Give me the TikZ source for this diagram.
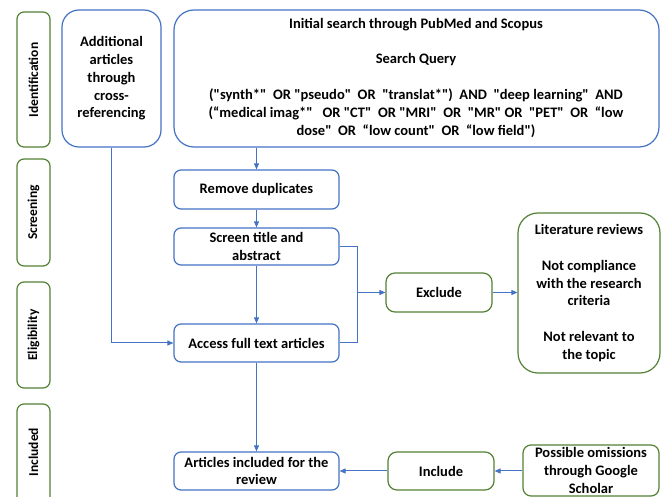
\documentclass[tikz,border=0pt]{standalone}
\usepackage{fontspec}
\setmainfont{Carlito}[Ligatures=TeXOff]
\usetikzlibrary{arrows.meta}
\definecolor{bl}{RGB}{68,114,196}
\definecolor{gr}{RGB}{84,130,53}
\tikzset{
  txt/.style={align=center, inner sep=0pt, font=\bfseries\fontsize{14.5}{17.8}\selectfont},
  box/.style={txt, draw=bl, line width=1.2pt},
  gbox/.style={txt, draw=gr, line width=1.2pt},
  side/.style={draw=gr, line width=1.2pt, rounded corners=7pt, inner sep=0pt, minimum width=33pt},
  lab/.style={rotate=90, font=\bfseries\fontsize{13.5}{16}\selectfont},
  arr/.style={draw=bl, line width=1pt, -{Triangle[length=6pt,width=5pt]}},
  ln/.style={draw=bl, line width=1pt}
}
\begin{document}
\begin{tikzpicture}[x=1pt,y=-1pt]
\clip (0,0) rectangle (665,497);
\fill[white] (0,0) rectangle (665,497);
% side labels
\node[side, minimum height=135pt] (sid) at (33.5,79.5) {};
\node[lab] (lid) at (33.5,80) {Identification};
\node[side, minimum height=107pt] (sscr) at (33.5,212.5) {};
\node[lab] (lscr) at (33.5,212.5) {Screening};
\node[side, minimum height=106pt] (seli) at (33.5,335) {};
\node[lab] (leli) at (33.5,335) {Eligibility};
\node[side, minimum height=100pt] (sinc) at (33.5,454) {};
\node[lab] (linc) at (33.5,452) {Included};
% main boxes
\node[box, rounded corners=17pt, minimum width=99pt, minimum height=137pt] (add) at (111.5,78.5) {Additional\\articles\\through\\cross-\\referencing};
\node[box, rounded corners=20pt, minimum width=485pt, minimum height=137pt] (ini) at (416.5,78.5) {};
\node[txt] (t1) at (416,25) {Initial search through PubMed and Scopus};
\node[txt] (t2) at (416,60) {Search Query};
\node[txt] (t3) at (416,113.5) {("synth*"\ \ OR "pseudo"\ \ OR \ "translat*")\ \ AND\ \ "deep learning"\ \ AND\\(“medical imag*"\ \ \ OR "CT"\ \ OR "MRI"\ \ OR\ \ "MR" OR\ \ "PET"\ \ OR\ \ “low\\dose"\ \ OR\ \ “low count"\ \ OR\ \ “low field")};
\node[box, rounded corners=7pt, minimum width=165pt, minimum height=39pt] (rem) at (256.5,189.5) {Remove duplicates};
\node[box, rounded corners=7pt, minimum width=165pt, minimum height=37pt] (scr) at (256.5,246.5) {Screen title and\\abstract};
\node[box, rounded corners=7pt, minimum width=165pt, minimum height=38pt] (acc) at (256.5,343) {Access full text articles};
\node[box, rounded corners=7pt, minimum width=165pt, minimum height=38pt] (art) at (256.5,471) {Articles included for the\\review};
\node[gbox, rounded corners=9pt, minimum width=106pt, minimum height=39pt] (exc) at (439,292.5) {Exclude};
\node[gbox, rounded corners=20pt, minimum width=142pt, minimum height=160pt] (lit) at (589,293) {Literature reviews\\[17.8pt]Not compliance\\with the research\\criteria\\[17.8pt]Not relevant to\\the topic};
\node[gbox, rounded corners=9pt, minimum width=106pt, minimum height=38pt] (inc) at (441,471) {Include};
\node[gbox, rounded corners=8pt, minimum width=136pt, minimum height=51pt] (pos) at (591,470.5) {Possible omissions\\through Google\\Scholar};
% connectors
\coordinate (j1) at (357,246.5);
\coordinate (j2) at (357,343);
\coordinate (j3) at (357,292.5);
\coordinate (a1) at (111.5,343);
\draw[arr] (ini.south -| rem.north) -- (rem.north);
\draw[arr] (rem) -- (scr);
\draw[arr] (scr) -- (acc);
\draw[arr] (acc) -- (art);
\draw[arr] (add.south) -- (a1) -- (acc.west);
\draw[ln] (scr.east) -- (j1) -- (j2) -- (acc.east);
\draw[arr] (j3) -- (exc.west);
\draw[arr] (exc.east) -- (lit.west |- exc.east);
\draw[arr] (pos.west |- inc.east) -- (inc.east);
\draw[arr] (inc.west) -- (art.east);
\end{tikzpicture}
\end{document}
